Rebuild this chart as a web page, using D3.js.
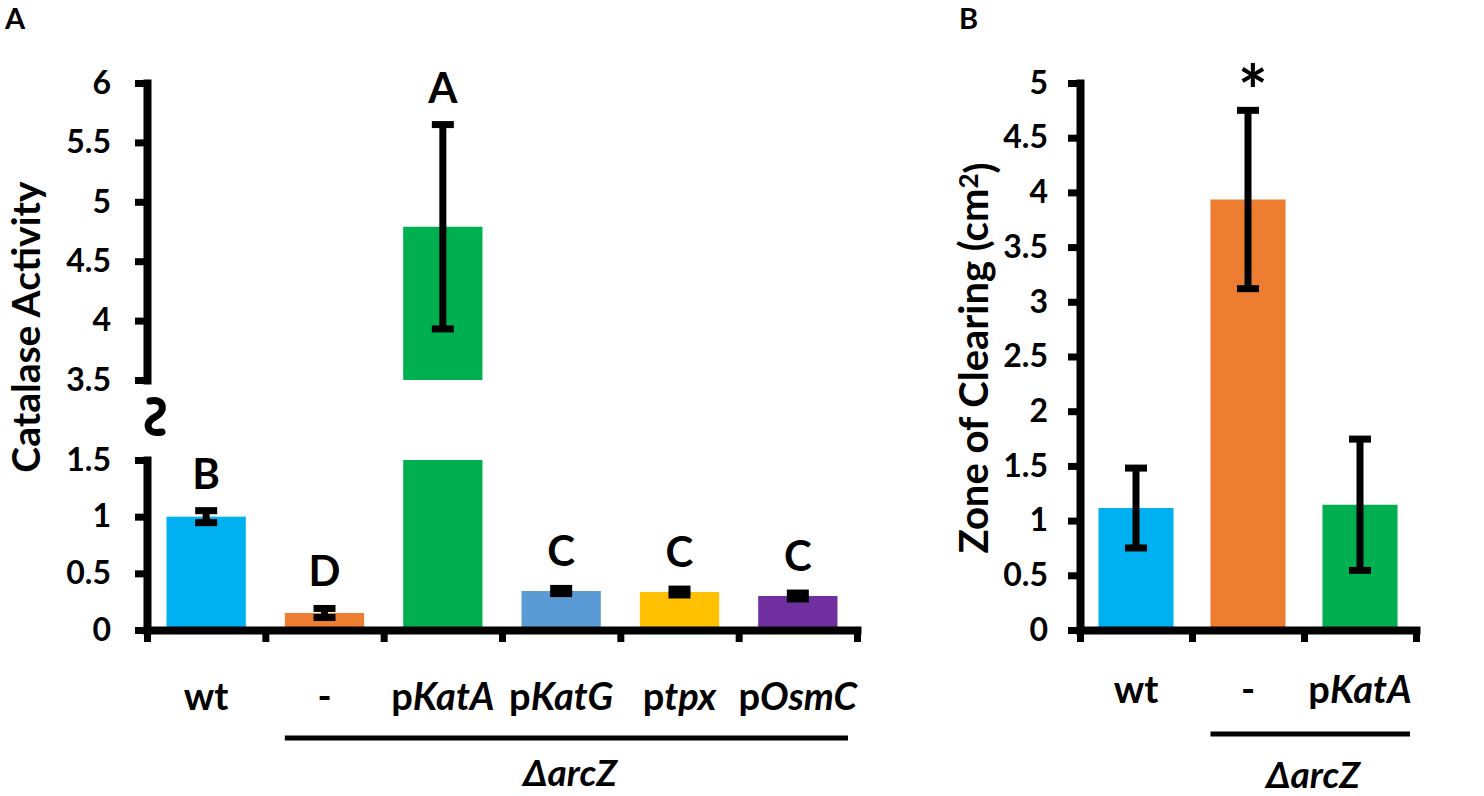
<!DOCTYPE html>
<html>
<head>
<meta charset="utf-8">
<script src="https://cdn.jsdelivr.net/npm/d3@7"></script>
<style>
  body { margin: 0; background: #fff; }
  svg text { font-family: Lato, "Open Sans", sans-serif; font-weight: bold; fill: #000; }
</style>
</head>
<body>
<div class="fondo"></div>
<script>
// panel A data
var catsA = ["wt", "-", "pKatA", "pKatG", "ptpx", "pOsmC"];
var meanA = [1.0, 0.15, 4.79, 0.344, 0.335, 0.30];
var errA = [0.053, 0.04, 0.86, 0.023, 0.026, 0.026];
var letrasA = ["B", "D", "A", "C", "C", "C"];
var coloresA = ["#00B0F0", "#ED7D31", "#00B050", "#5B9BD5", "#FFC000", "#7030A0"];
var ticksArribaA = [3.5, 4, 4.5, 5, 5.5, 6];
var ticksAbajoA = [0, 0.5, 1, 1.5];

// panel B data
var catsB = ["wt", "-", "pKatA"];
var meanB = [1.115, 3.935, 1.145];
var errB = [0.365, 0.815, 0.6];
var coloresB = ["#00B0F0", "#ED7D31", "#00B050"];
var ticksB = [0, 0.5, 1, 1.5, 2, 2.5, 3, 3.5, 4, 4.5, 5];

var contenedor = d3.select('.fondo')
  .append('svg')
  .attr('width', 1484)
  .attr('height', 796);

function estiloEje(g) {
  g.select('.domain').attr('stroke-width', 8).attr('stroke-linecap', 'square');
  g.selectAll('.tick line').attr('stroke-width', 7);
  g.selectAll('.tick text').style('font-size', '32px');
}

function etiquetaX(sel, nombre) {
  if (nombre.length > 1 && nombre[0] === 'p') {
    sel.append('tspan').text('p');
    sel.append('tspan').style('font-style', 'italic').text(nombre.slice(1));
  } else {
    sel.text(nombre);
  }
}

function barraError(g, x, y0, y1) {
  g.append('line').attr('x1', x).attr('x2', x).attr('y1', y0).attr('y2', y1)
    .attr('stroke', '#000').attr('stroke-width', 7);
  [y0, y1].forEach(function (yy) {
    g.append('line').attr('x1', x - 11).attr('x2', x + 11).attr('y1', yy).attr('y2', yy)
      .attr('stroke', '#000').attr('stroke-width', 7);
  });
}

// ---------- Panel A ----------
var xBordeA = d3.scaleLinear().domain([0, catsA.length]).range([147, 857]);
var xA = d3.scaleBand().domain(catsA).range([147, 857]).paddingInner(0.33).paddingOuter(0.165);
var yArribaA = d3.scaleLinear().domain([3.5, 6]).range([380, 83]);
var yAbajoA = d3.scaleLinear().domain([0, 1.5]).range([630, 460]);
var corte = 1.5, reinicio = 3.5;

var datosA = catsA.map(function (c, i) {
  return { cat: c, v: meanA[i], e: errA[i], letra: letrasA[i], color: coloresA[i] };
});

// bars, lower part
contenedor.append('g').selectAll('rect')
  .data(datosA).enter().append('rect')
  .attr('x', d => xA(d.cat))
  .attr('width', xA.bandwidth())
  .attr('y', d => yAbajoA(Math.min(d.v, corte)))
  .attr('height', d => yAbajoA(0) - yAbajoA(Math.min(d.v, corte)))
  .attr('fill', d => d.color);

// bars, upper part
contenedor.append('g').selectAll('rect')
  .data(datosA.filter(d => d.v > reinicio)).enter().append('rect')
  .attr('x', d => xA(d.cat))
  .attr('width', xA.bandwidth())
  .attr('y', d => yArribaA(d.v))
  .attr('height', d => yArribaA(reinicio) - yArribaA(d.v))
  .attr('fill', d => d.color);

var errG = contenedor.append('g');
datosA.forEach(function (d) {
  var esc = d.v > reinicio ? yArribaA : yAbajoA;
  var cx = xA(d.cat) + xA.bandwidth() / 2;
  var yTop = esc(d.v + d.e);
  barraError(errG, cx, yTop, esc(d.v - d.e));
  contenedor.append('text')
    .attr('x', cx).attr('y', yTop - 22)
    .attr('text-anchor', 'middle')
    .style('font-size', '42px')
    .text(d.letra);
});

contenedor.append('g')
  .attr('transform', 'translate(147,0)')
  .call(d3.axisLeft(yArribaA).tickValues(ticksArribaA).tickSize(12).tickSizeOuter(0).tickPadding(24)
    .tickFormat(d3.format('')))
  .call(estiloEje);

contenedor.append('g')
  .attr('transform', 'translate(147,0)')
  .call(d3.axisLeft(yAbajoA).tickValues(ticksAbajoA).tickSize(12).tickSizeOuter(0).tickPadding(24)
    .tickFormat(d3.format('')))
  .call(estiloEje);

contenedor.append('g')
  .attr('transform', 'translate(0,630)')
  .call(d3.axisBottom(xBordeA).tickValues(d3.range(catsA.length + 1)).tickSize(12).tickSizeOuter(0).tickFormat(''))
  .call(estiloEje);

// break mark
var yMedio = (yAbajoA(corte) + yArribaA(reinicio)) / 2;
contenedor.append('path')
  .attr('d', 'M150,' + (yMedio - 19) + ' C165,' + (yMedio - 22) + ' 166,' + (yMedio - 8) + ' 155,' + (yMedio - 3) +
    ' C144,' + (yMedio + 2) + ' 146,' + (yMedio + 15) + ' 162,' + (yMedio + 12))
  .attr('fill', 'none').attr('stroke', '#000').attr('stroke-width', 7).attr('stroke-linecap', 'round');

// x labels A
catsA.forEach(function (c) {
  var t = contenedor.append('text')
    .attr('x', xA(c) + xA.bandwidth() / 2).attr('y', 710)
    .attr('text-anchor', 'middle')
    .style('font-size', '38px');
  etiquetaX(t, c);
});

contenedor.append('line')
  .attr('x1', xA('-')).attr('x2', xBordeA(catsA.length) - 9)
  .attr('y1', 738).attr('y2', 738)
  .attr('stroke', '#000').attr('stroke-width', 5);

contenedor.append('text')
  .attr('x', 570).attr('y', 786).attr('text-anchor', 'middle')
  .style('font-size', '37px').style('font-style', 'italic')
  .text('ΔarcZ');

contenedor.append('text')
  .attr('transform', 'translate(40,327) rotate(-90)')
  .attr('text-anchor', 'middle')
  .style('font-size', '39px')
  .text('Catalase Activity');

contenedor.append('text').attr('x', 5).attr('y', 29).style('font-size', '29px').text('A');

// ---------- Panel B ----------
var xBordeB = d3.scaleLinear().domain([0, catsB.length]).range([1080, 1416]);
var xB = d3.scaleBand().domain(catsB).range([1080, 1416]).paddingInner(0.33).paddingOuter(0.165);
var yB = d3.scaleLinear().domain([0, 5]).range([630, 83]);

var datosB = catsB.map(function (c, i) {
  return { cat: c, v: meanB[i], e: errB[i], color: coloresB[i] };
});

contenedor.append('g').selectAll('rect')
  .data(datosB).enter().append('rect')
  .attr('x', d => xB(d.cat))
  .attr('width', xB.bandwidth())
  .attr('y', d => yB(d.v))
  .attr('height', d => yB(0) - yB(d.v))
  .attr('fill', d => d.color);

var errGB = contenedor.append('g');
datosB.forEach(function (d) {
  barraError(errGB, xB(d.cat) + xB.bandwidth() / 2, yB(d.v + d.e), yB(d.v - d.e));
});

// significance mark
var iMax = d3.maxIndex(meanB);
contenedor.append('text')
  .attr('x', xB(catsB[iMax]) + xB.bandwidth() / 2 + 5)
  .attr('y', yB(meanB[iMax] + errB[iMax]) + 7)
  .attr('text-anchor', 'middle')
  .style('font-size', '70px')
  .text('*');

contenedor.append('g')
  .attr('transform', 'translate(1080,0)')
  .call(d3.axisLeft(yB).tickValues(ticksB).tickSize(12).tickSizeOuter(0).tickPadding(20)
    .tickFormat(d3.format('')))
  .call(estiloEje);

contenedor.append('g')
  .attr('transform', 'translate(0,630)')
  .call(d3.axisBottom(xBordeB).tickValues(d3.range(catsB.length + 1)).tickSize(12).tickSizeOuter(0).tickFormat(''))
  .call(estiloEje);

catsB.forEach(function (c) {
  var t = contenedor.append('text')
    .attr('x', xB(c) + xB.bandwidth() / 2).attr('y', 703)
    .attr('text-anchor', 'middle')
    .style('font-size', '38px');
  etiquetaX(t, c);
});

contenedor.append('line')
  .attr('x1', xB('-')).attr('x2', xBordeB(catsB.length) - 6)
  .attr('y1', 734).attr('y2', 734)
  .attr('stroke', '#000').attr('stroke-width', 5);

contenedor.append('text')
  .attr('x', 1313).attr('y', 788).attr('text-anchor', 'middle')
  .style('font-size', '37px').style('font-style', 'italic')
  .text('ΔarcZ');

var tituloB = contenedor.append('text')
  .attr('transform', 'translate(988,358) rotate(-90)')
  .attr('text-anchor', 'middle')
  .style('font-size', '40px');
tituloB.append('tspan').text('Zone of Clearing (cm');
tituloB.append('tspan').text('2').attr('dy', '-0.4em').style('font-size', '26px');
tituloB.append('tspan').text(')').attr('dy', '0.4em');

contenedor.append('text').attr('x', 959).attr('y', 29).style('font-size', '29px').text('B');
</script>
</body>
</html>
